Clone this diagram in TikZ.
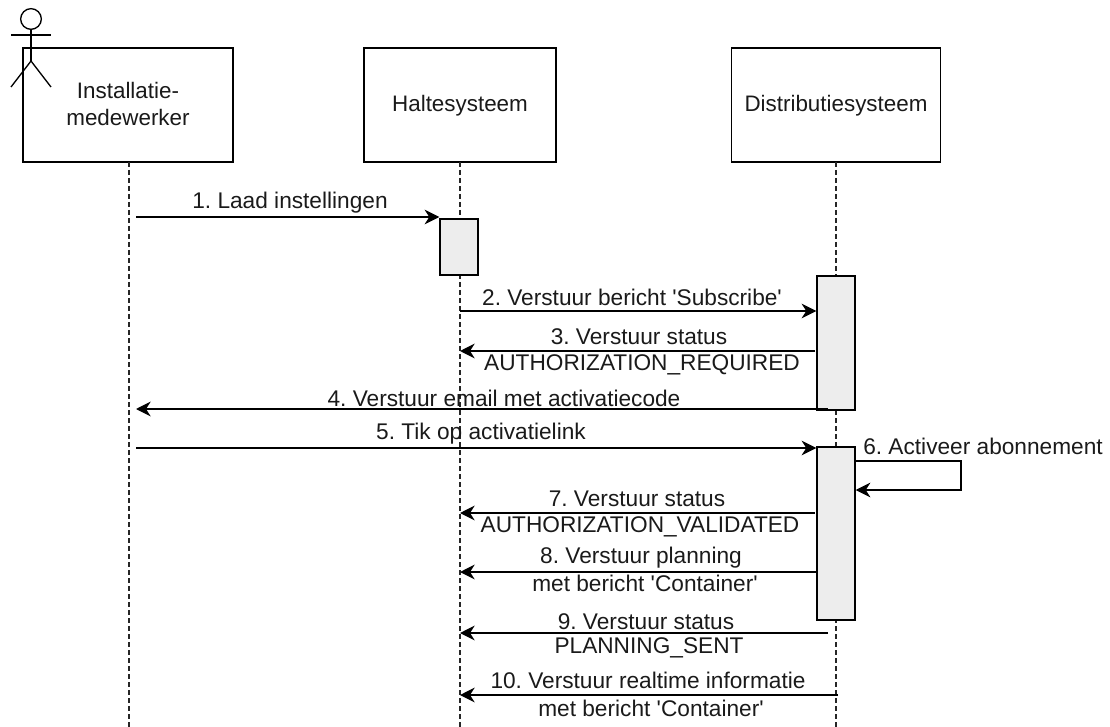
\documentclass[tikz,border=0pt]{standalone}
\usepackage{fontspec}
\newfontfamily\plainsans{Liberation Sans}
\usetikzlibrary{arrows.meta}
\definecolor{actfill}{HTML}{EDEDED}
\definecolor{txt}{HTML}{1A1A1A}
\newcommand{\lowered}[2]{\raisebox{-#1pt}[0pt][0pt]{#2}}
\tikzset{
  x=0.75pt,y=-0.75pt,
  box/.style={draw=black,line width=1.1pt,fill=white,inner sep=0pt,align=center,font=\plainsans\fontsize{16.8}{20.3}\selectfont\frenchspacing,text=txt},
  act/.style={draw=black,line width=1.1pt,fill=actfill,inner sep=0pt},
  life/.style={draw=black!85,line width=1pt,dash pattern=on 3.75pt off 2.25pt},
  msg/.style={draw=black,line width=1pt,-{Stealth[length=11pt,width=11pt,inset=3.5pt]}},
  lab/.style={inner sep=0pt,align=center,yshift=-1pt,font=\plainsans\fontsize{17}{20}\selectfont\frenchspacing,text=txt},
  actor/.style={draw=black,line width=1pt},
}
\begin{document}
\begin{tikzpicture}
\useasboundingbox (0,0) rectangle (1110,727);
% lifeline ends
\coordinate (l1) at (129,727);
\coordinate (l2) at (460,727);
\coordinate (l3) at (836,727);
% participants
\node[box,minimum width=157.5pt,minimum height=85.5pt] (inst) at (128,105) {\lowered{5.6}{Installatie-}\\\lowered{5.6}{medewerker}};
\node[box,minimum width=144pt,minimum height=85.5pt] (halte) at (460,105) {\lowered{4.8}{Haltesysteem}};
\node[box,minimum width=156.75pt,minimum height=85.5pt] (dist) at (836,105) {\lowered{4.8}{Distributiesysteem}};
% lifelines
\draw[life] (129,162) -- (l1);
\draw[life] (460,162) -- (l2);
\draw[life] (836,162) -- (l3);
% activations
\node[act,minimum width=28.5pt,minimum height=42pt] (a1) at (459,247) {};
\node[act,minimum width=28.5pt,minimum height=100.5pt] (a2) at (836,343) {};
\node[act,minimum width=28.5pt,minimum height=129.75pt] (a3) at (836,533.5) {};
% actor
\node[draw=black,line width=1pt,circle,minimum size=15.5pt,inner sep=0pt] (head) at (31,19) {};
\coordinate (hip) at (31,61);
\coordinate (armL) at (11,35);
\coordinate (armR) at (51,35);
\coordinate (legL) at (11,87);
\coordinate (legR) at (51,87);
\draw[actor] (head.south) -- (hip);
\draw[actor] (armL) -- (armR);
\draw[actor] (legL) -- (hip) -- (legR);
% message ends
\coordinate (s1) at (136,217);
\coordinate (s5) at (136,448);
\coordinate (t4) at (136,409);
\draw[msg] (s1) -- (a1.west |- s1);
\draw[msg] (460,311) -- (a2.west |- 0,311);
\draw[msg] (815,351) -- (460,351);
\draw[msg] (828,409) -- (t4);
\draw[msg] (s5) -- (a3.west |- s5);
\draw[msg] (a3.east |- 0,461) -- (961,461) -- (961,490) -- (a3.east |- 0,490);
\draw[msg] (815,513) -- (460,513);
\draw[msg] (a3.west |- 0,572) -- (460,572);
\draw[msg] (828,633) -- (460,633);
\draw[msg] (838,695) -- (460,695);
% labels
\node[lab] (m1) at (290,201) {1. Laad instellingen};
\node[lab] (m2) at (632,296) {2. Verstuur bericht 'Subscribe'};
\node[lab] (m3a) at (639,335) {3. Verstuur status};
\node[lab] (m3b) at (642,364) {AUTHORIZATION\_REQUIRED};
\node[lab] (m4) at (504,397) {4. Verstuur email met activatiecode};
\node[lab] (m5) at (481,432) {5. Tik op activatielink};
\node[lab] (m6) at (983,445) {6. Activeer abonnement};
\node[lab] (m7a) at (637,497) {7. Verstuur status};
\node[lab] (m7b) at (640,526) {AUTHORIZATION\_VALIDATED};
\node[lab] (m8a) at (641,556) {8. Verstuur planning};
\node[lab] (m8b) at (645,582) {met bericht 'Container'};
\node[lab] (m9a) at (646,620) {9. Verstuur status};
\node[lab] (m9b) at (649,647) {PLANNING\_SENT};
\node[lab] (m10a) at (648,679) {10. Verstuur realtime informatie};
\node[lab] (m10b) at (651,707) {met bericht 'Container'};
\end{tikzpicture}
\end{document}
